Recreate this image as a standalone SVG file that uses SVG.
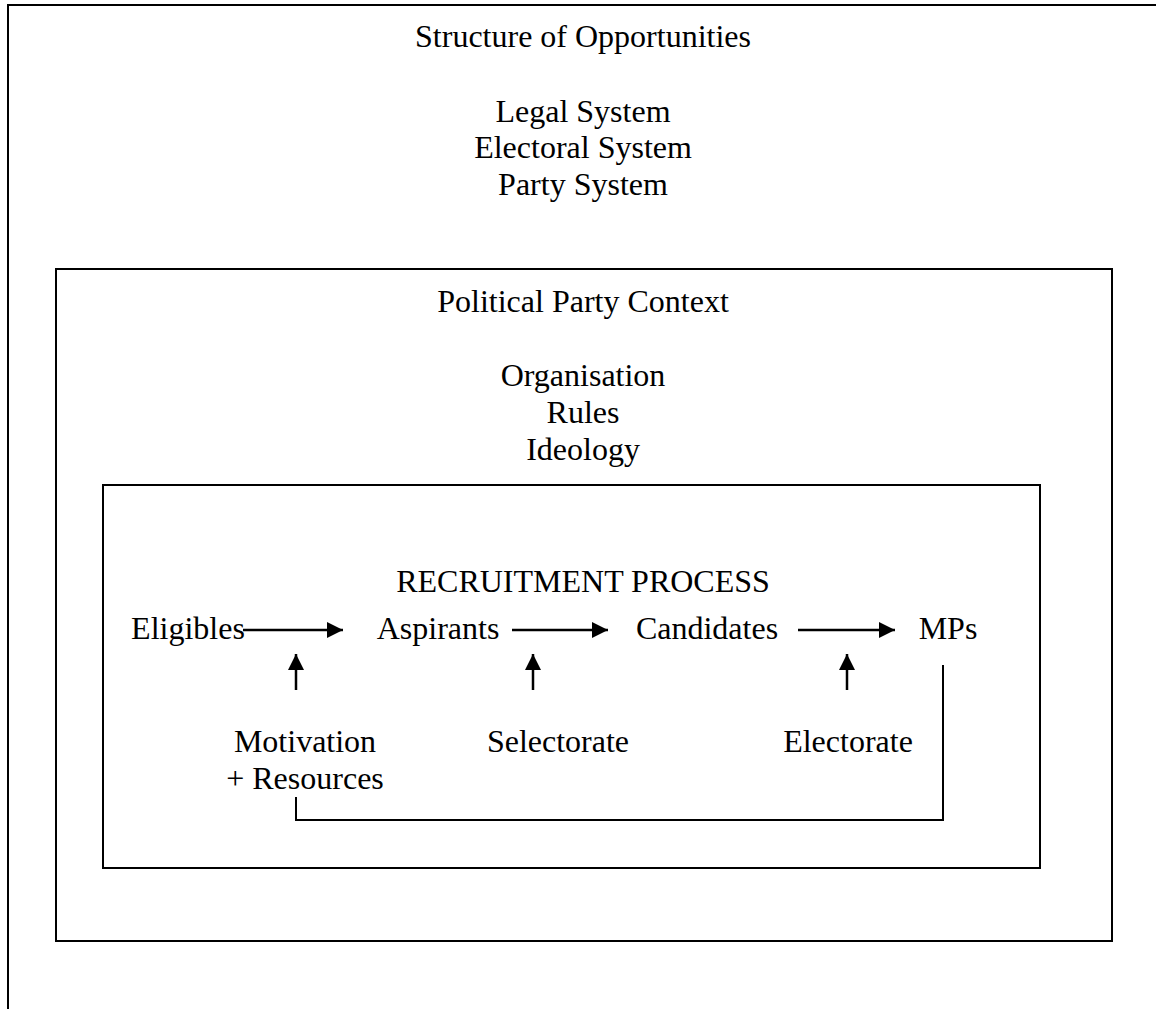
<svg xmlns="http://www.w3.org/2000/svg" width="1156" height="1009" viewBox="0 0 1156 1009">
  <style>
    .frame { fill: none; stroke: #000; stroke-width: 2; }
    .lbl { font-family: "Liberation Serif", "Times New Roman", serif; font-size: 32px; fill: #000; text-anchor: middle; }
    .conn { fill: none; stroke: #000; stroke-width: 2.5; }
  </style>
  <defs>
    <marker id="head" viewBox="0 0 10 10" refX="10" refY="5" markerWidth="16" markerHeight="16" markerUnits="userSpaceOnUse" orient="auto">
      <path d="M0,0 L10,5 L0,10 Z" fill="#000"/>
    </marker>
  </defs>
  <rect width="1156" height="1009" fill="#fff"/>

  <!-- Structure of opportunities (outer frame, open to the right and bottom) -->
  <g id="structure">
    <path class="frame" d="M8,1009 V5 H1156"/>
    <text class="lbl" x="583" y="47">Structure of Opportunities</text>
    <text class="lbl" x="583" y="122">Legal System</text>
    <text class="lbl" x="583" y="158">Electoral System</text>
    <text class="lbl" x="583" y="195">Party System</text>
  </g>

  <!-- Political party context -->
  <g id="party-context">
    <rect class="frame" x="56" y="269" width="1056" height="672"/>
    <text class="lbl" x="583" y="312">Political Party Context</text>
    <text class="lbl" x="583" y="386">Organisation</text>
    <text class="lbl" x="583" y="423">Rules</text>
    <text class="lbl" x="583" y="460">Ideology</text>
  </g>

  <!-- Recruitment process -->
  <g id="recruitment">
    <rect class="frame" x="103" y="485" width="937" height="383"/>
    <text class="lbl" x="583" y="592">RECRUITMENT PROCESS</text>
  </g>

  <g id="eligibles"><text class="lbl" x="188" y="639">Eligibles</text></g>
  <g id="aspirants"><text class="lbl" x="438" y="639">Aspirants</text></g>
  <g id="candidates"><text class="lbl" x="707" y="639">Candidates</text></g>
  <g id="mps"><text class="lbl" x="948" y="639">MPs</text></g>
  <g id="motivation">
    <text class="lbl" x="305" y="752">Motivation</text>
    <text class="lbl" x="305" y="789">+ Resources</text>
  </g>
  <g id="selectorate"><text class="lbl" x="558" y="752">Selectorate</text></g>
  <g id="electorate"><text class="lbl" x="848" y="752">Electorate</text></g>

  <g id="connectors">
    <line class="conn" x1="243" y1="630" x2="343" y2="630" marker-end="url(#head)"/>
    <line class="conn" x1="512" y1="630" x2="608" y2="630" marker-end="url(#head)"/>
    <line class="conn" x1="798" y1="630" x2="895" y2="630" marker-end="url(#head)"/>
    <line class="conn" x1="296" y1="690" x2="296" y2="654" marker-end="url(#head)"/>
    <line class="conn" x1="533" y1="690" x2="533" y2="654" marker-end="url(#head)"/>
    <line class="conn" x1="847" y1="690" x2="847" y2="654" marker-end="url(#head)"/>
    <path class="frame" d="M943,665 V820 H296 V797"/>
  </g>
</svg>
